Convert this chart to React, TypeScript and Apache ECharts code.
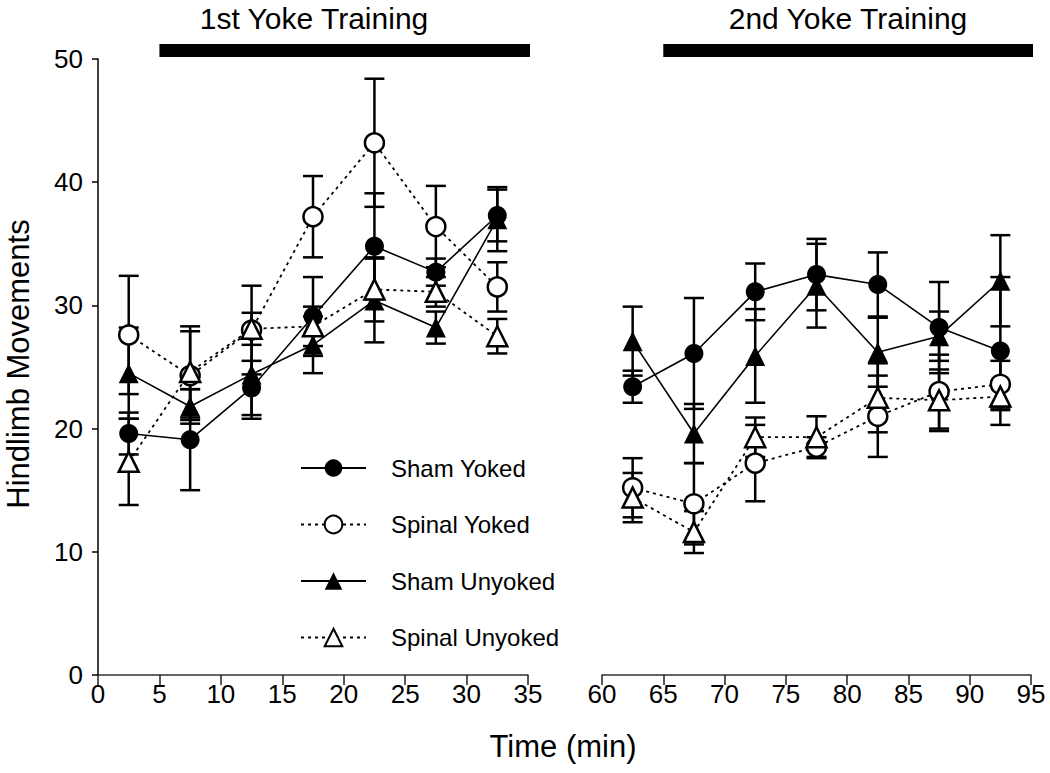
import React, { useEffect, useRef } from "react";
import * as echarts from "echarts";

const timesLeft = [2.5, 7.5, 12.5, 17.5, 22.5, 27.5, 32.5];
const timesRight = [62.5, 67.5, 72.5, 77.5, 82.5, 87.5, 92.5];

const groupNames = ["Sham Yoked", "Spinal Yoked", "Sham Unyoked", "Spinal Unyoked"];

const shamYokedLeft = [19.6, 19.1, 23.3, 29.1, 34.8, 32.7, 37.3];
const shamYokedLeftErr = [1.7, 4.1, 2.2, 3.2, 4.3, 1.1, 2.1];
const spinalYokedLeft = [27.6, 24.3, 28.0, 37.2, 43.2, 36.4, 31.5];
const spinalYokedLeftErr = [4.8, 3.6, 3.6, 3.3, 5.2, 3.3, 2.0];
const shamUnyokedLeft = [24.5, 21.8, 24.4, 26.8, 30.4, 28.2, 37.0];
const shamUnyokedLeftErr = [3.7, 1.4, 3.6, 2.3, 3.4, 1.3, 2.6];
const spinalUnyokedLeft = [17.3, 24.6, 28.1, 28.3, 31.3, 31.1, 27.5];
const spinalUnyokedLeftErr = [3.5, 3.7, 1.3, 1.6, 2.6, 1.2, 1.4];

const shamYokedRight = [23.4, 26.1, 31.1, 32.5, 31.7, 28.2, 26.3];
const shamYokedRightErr = [1.3, 4.5, 2.3, 2.9, 2.6, 3.7, 6.0];
const spinalYokedRight = [15.2, 13.9, 17.2, 18.5, 21.0, 23.0, 23.6];
const spinalYokedRightErr = [2.4, 3.3, 3.1, 0.8, 3.3, 3.0, 1.9];
const shamUnyokedRight = [27.1, 19.6, 25.9, 31.6, 26.2, 27.5, 32.0];
const shamUnyokedRightErr = [2.8, 2.4, 3.8, 3.4, 2.8, 2.0, 3.7];
const spinalUnyokedRight = [14.4, 11.6, 19.3, 19.3, 22.5, 22.3, 22.6];
const spinalUnyokedRightErr = [2.0, 1.7, 1.6, 1.7, 2.8, 2.5, 1.1];

const trainingRanges: [number, number, number][] = [
  [0, 5, 35],
  [1, 65, 95],
];
const trainingTitles = ["1st Yoke Training", "2nd Yoke Training"];

const FONT = "Liberation Sans, Arial, Helvetica, sans-serif";

type GroupDef = {
  name: string;
  left: number[];
  leftErr: number[];
  right: number[];
  rightErr: number[];
  symbol: string;
  filled: boolean;
  dotted: boolean;
};

const groups: GroupDef[] = [
  { name: groupNames[0], left: shamYokedLeft, leftErr: shamYokedLeftErr, right: shamYokedRight, rightErr: shamYokedRightErr, symbol: "circle", filled: true, dotted: false },
  { name: groupNames[1], left: spinalYokedLeft, leftErr: spinalYokedLeftErr, right: spinalYokedRight, rightErr: spinalYokedRightErr, symbol: "circle", filled: false, dotted: true },
  { name: groupNames[2], left: shamUnyokedLeft, leftErr: shamUnyokedLeftErr, right: shamUnyokedRight, rightErr: shamUnyokedRightErr, symbol: "triangle", filled: true, dotted: false },
  { name: groupNames[3], left: spinalUnyokedLeft, leftErr: spinalUnyokedLeftErr, right: spinalUnyokedRight, rightErr: spinalUnyokedRightErr, symbol: "triangle", filled: false, dotted: true },
];

function errorData(times: number[], means: number[], errs: number[]) {
  return times.map((t, i) => [t, means[i] - errs[i], means[i] + errs[i]]);
}

const renderErrorBar = (params: any, api: any) => {
  const x = api.value(0);
  const lo = api.coord([x, api.value(1)]);
  const hi = api.coord([x, api.value(2)]);
  const half = 10;
  const style = { stroke: "#000", lineWidth: 2.5 };
  return {
    type: "group",
    children: [
      { type: "line", shape: { x1: lo[0], y1: lo[1], x2: hi[0], y2: hi[1] }, style },
      { type: "line", shape: { x1: lo[0] - half, y1: lo[1], x2: lo[0] + half, y2: lo[1] }, style },
      { type: "line", shape: { x1: hi[0] - half, y1: hi[1], x2: hi[0] + half, y2: hi[1] }, style },
    ],
  };
};

export default function App() {
  const ref = useRef<HTMLDivElement>(null);

  useEffect(() => {
    if (!ref.current) return;
    document.body.style.margin = "0";
    const chart = echarts.init(ref.current, undefined, { renderer: "svg" });

    const series: any[] = [];
    const leftErrData: any[] = [];
    const rightErrData: any[] = [];
    groups.forEach((g) => {
      leftErrData.push(...errorData(timesLeft, g.left, g.leftErr));
      rightErrData.push(...errorData(timesRight, g.right, g.rightErr));
    });
    series.push({
      type: "custom",
      name: "errL",
      xAxisIndex: 0,
      yAxisIndex: 0,
      renderItem: renderErrorBar,
      data: leftErrData,
      encode: { x: 0, y: [1, 2] },
      z: 1,
      silent: true,
    });
    series.push({
      type: "custom",
      name: "errR",
      xAxisIndex: 1,
      yAxisIndex: 1,
      renderItem: renderErrorBar,
      data: rightErrData,
      encode: { x: 0, y: [1, 2] },
      z: 1,
      silent: true,
    });

    groups.forEach((g) => {
      const common = {
        type: "line",
        name: g.name,
        symbol: g.symbol,
        symbolSize: g.symbol === "circle" ? 19 : 20,
        showAllSymbol: true,
        lineStyle: g.dotted
          ? { color: "#000", width: 1.8, type: [3, 4] }
          : { color: "#000", width: 1.6, type: "solid" },
        itemStyle: {
          color: g.filled ? "#000" : "#fff",
          borderColor: "#000",
          borderWidth: g.filled ? 0 : 2.5,
          opacity: 1,
        },
        z: g.filled ? 3 : 4,
        emphasis: { disabled: true },
        silent: true,
      };
      series.push({
        ...common,
        xAxisIndex: 0,
        yAxisIndex: 0,
        data: timesLeft.map((t, i) => [t, g.left[i]]),
      });
      series.push({
        ...common,
        xAxisIndex: 1,
        yAxisIndex: 1,
        data: timesRight.map((t, i) => [t, g.right[i]]),
      });
    });

    const xAxisCommon = {
      type: "value",
      interval: 5,
      axisLine: { show: true, onZero: false, lineStyle: { color: "#333", width: 1.5 } },
      axisTick: { show: true, inside: false, length: 10, lineStyle: { color: "#222", width: 1.5 } },
      axisLabel: { color: "#000", fontSize: 26, fontFamily: FONT, margin: 6 },
      splitLine: { show: false },
    };

    const option: any = {
      animation: false,
      backgroundColor: "#fff",
      grid: [
        { left: 98, top: 59, width: 430, height: 616 },
        { left: 602, top: 59, width: 429, height: 616 },
      ],
      xAxis: [
        { ...xAxisCommon, gridIndex: 0, min: 0, max: 35 },
        { ...xAxisCommon, gridIndex: 1, min: 60, max: 95 },
      ],
      yAxis: [
        {
          type: "value",
          gridIndex: 0,
          min: 0,
          max: 50,
          interval: 10,
          axisLine: { show: true, lineStyle: { color: "#000", width: 1.5 } },
          axisTick: { show: true, length: 6, lineStyle: { color: "#000", width: 1.5 } },
          axisLabel: { color: "#000", fontSize: 26, fontFamily: FONT, margin: 15 },
          splitLine: { show: false },
        },
        {
          type: "value",
          gridIndex: 1,
          min: 0,
          max: 50,
          interval: 10,
          show: false,
          splitLine: { show: false },
        },
      ],
      legend: {
        data: groupNames,
        orient: "vertical",
        left: 295,
        top: 451,
        itemWidth: 65,
        itemHeight: 22,
        itemGap: 32.5,
        selectedMode: false,
        textStyle: { color: "#000", fontSize: 24, fontFamily: FONT, padding: [0, 0, 0, 20] },
      },
      tooltip: { show: false },
      series,
    };

    chart.setOption(option);

    const graphics: any[] = [];
    trainingRanges.forEach(([axisIdx, a, b], i) => {
      const x1 = chart.convertToPixel({ xAxisIndex: axisIdx }, a) as number;
      const x2 = chart.convertToPixel({ xAxisIndex: axisIdx }, b) as number;
      graphics.push({
        type: "rect",
        id: "bar" + i,
        shape: { x: x1, y: 44, width: x2 - x1 + 2, height: 13 },
        style: { fill: "#000" },
      });
    });
    graphics.push({
      type: "text",
      id: "t0",
      x: 314,
      y: 18,
      style: { text: trainingTitles[0], fontSize: 30, fontFamily: FONT, fill: "#000", textAlign: "center", textVerticalAlign: "middle" },
    });
    graphics.push({
      type: "text",
      id: "t1",
      x: 848,
      y: 18,
      style: { text: trainingTitles[1], fontSize: 30, fontFamily: FONT, fill: "#000", textAlign: "center", textVerticalAlign: "middle" },
    });
    graphics.push({
      type: "text",
      id: "yname",
      x: 18,
      y: 364,
      rotation: Math.PI / 2,
      style: { text: "Hindlimb Movements", fontSize: 31, fontFamily: FONT, fill: "#000", textAlign: "center", textVerticalAlign: "middle" },
    });
    graphics.push({
      type: "text",
      id: "xname",
      x: 563,
      y: 746,
      style: { text: "Time (min)", fontSize: 31, fontFamily: FONT, fill: "#000", textAlign: "center", textVerticalAlign: "middle" },
    });
    chart.setOption({ graphic: graphics });

    return () => chart.dispose();
  }, []);

  return (
    <div
      ref={ref}
      style={{ position: "relative", width: 1050, height: 773, background: "#fff" }}
    />
  );
}
